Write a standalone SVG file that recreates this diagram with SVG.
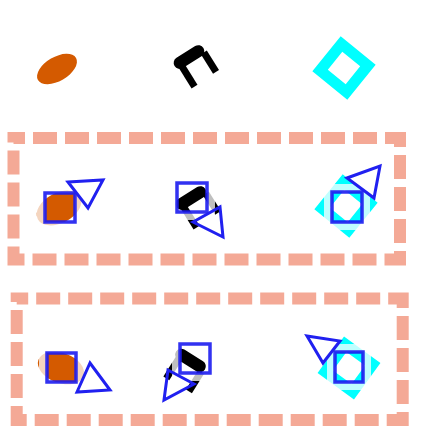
<svg xmlns="http://www.w3.org/2000/svg" width="433" height="443" viewBox="0 0 433 443">
<style>
.box{fill:none;stroke:#f4a996;stroke-width:12;stroke-dasharray:24 8}
.ell{fill:#d45a00}
.pi line{stroke:#000}
.dia{fill:none;stroke:#00ffff;stroke-width:11}
.halo{fill:none;stroke:#fff;stroke-opacity:0.75;stroke-width:8}
.sq{fill:none;stroke:#1c1cf0;stroke-opacity:0.9;stroke-width:3.5}
.tri{fill:none;stroke:#2020f0;stroke-width:3;stroke-linejoin:miter}
</style>
<defs>
<g id="pi" class="pi">
<line x1="-11" y1="0" x2="11" y2="0" stroke-width="12" stroke-linecap="round"/>
<line x1="-11" y1="4" x2="-11" y2="28" stroke-width="7"/>
<line x1="15" y1="4" x2="15" y2="27" stroke-width="7"/>
</g>
<rect id="diamond" x="-17" y="-17" width="34" height="34"/>
</defs>
<g id="top-ellipse"><ellipse class="ell" cx="57" cy="69" rx="22" ry="12" transform="rotate(-30 57 69)"/></g>
<g id="top-pi"><use href="#pi" transform="translate(189,57) rotate(-32)"/></g>
<g id="top-diamond"><use href="#diamond" class="dia" transform="translate(344,68) rotate(39)"/></g>
<g id="box1"><rect class="box" x="13.5" y="138" width="386.5" height="121.5" stroke-dashoffset="12.5"/></g>
<g id="box2"><rect class="box" x="16.7" y="298.5" width="386" height="121.5" stroke-dashoffset="12.5"/></g>
<g id="r2c1">
<ellipse class="ell" cx="59" cy="208" rx="24" ry="15" transform="rotate(-28 59 208)"/>
<rect class="halo" x="41" y="189" width="38" height="37"/>
<rect class="sq" x="45" y="193" width="30" height="29"/>
<polygon class="tri" points="68,182 103,180 88,208"/>
</g>
<g id="r2c2">
<use href="#pi" transform="translate(191,198) rotate(-32)"/>
<rect class="halo" x="173" y="179" width="38" height="37"/>
<rect class="sq" x="177" y="183" width="30" height="29"/>
<polygon class="tri" points="193,222 220,207 223,237"/>
</g>
<g id="r2c3">
<use href="#diamond" class="dia" transform="translate(346,206) rotate(39)"/>
<rect class="halo" x="328" y="188" width="38" height="38"/>
<rect class="sq" x="332" y="192" width="30" height="30"/>
<polygon class="tri" points="347,178 380,166 374,198"/>
</g>
<g id="r3c1">
<ellipse class="ell" cx="61" cy="368" rx="24" ry="15" transform="rotate(20 61 368)"/>
<rect class="halo" x="43" y="349" width="37" height="37"/>
<rect class="sq" x="47" y="353" width="29" height="29"/>
<polygon class="tri" points="77,392 90,363 110,390"/>
</g>
<g id="r3c2">
<use href="#pi" transform="translate(190.5,360.5) rotate(32)"/>
<rect class="halo" x="176" y="340" width="38" height="37"/>
<rect class="sq" x="180" y="344" width="30" height="29"/>
<polygon class="tri" points="164,400 168,370 194,384"/>
</g>
<g id="r3c3">
<use href="#diamond" class="dia" transform="translate(349,368) rotate(36)"/>
<rect class="halo" x="331" y="348" width="36" height="38"/>
<rect class="sq" x="335" y="352" width="28" height="30"/>
<polygon class="tri" points="307,336 340,341 323,363"/>
</g>
</svg>
